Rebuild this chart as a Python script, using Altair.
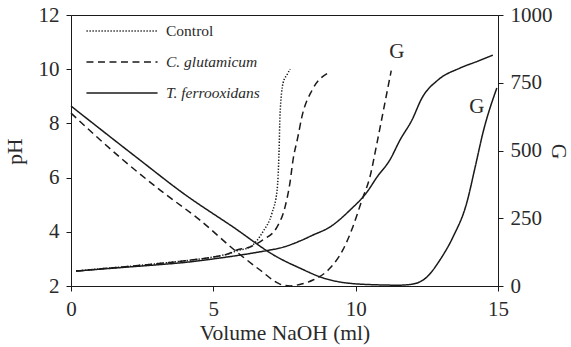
import altair as alt
import pandas as pd

# ---- data ----
series_names = ["Control", "C. glutamicum", "T. ferrooxidans"]

# pH curves (left axis)
x_ctrl = [0.18, 1, 2, 3, 4, 5, 5.5, 5.83, 6.29, 6.74, 7.06, 7.24, 7.31, 7.34, 7.45, 7.59, 7.7]
ph_ctrl = [2.55, 2.63, 2.72, 2.82, 2.93, 3.07, 3.18, 3.3, 3.44, 4.0, 4.69, 5.54, 7.02, 8.24, 9.49, 9.8, 10.0]

x_cg = [0.18, 1, 2, 3, 4, 5, 5.5, 5.83, 6.29, 6.74, 7.24, 7.52, 7.69, 7.8, 7.97, 8.11, 8.47, 9.03]
ph_cg = [2.55, 2.63, 2.72, 2.82, 2.93, 3.07, 3.18, 3.33, 3.44, 3.7, 4.18, 4.92, 5.8, 6.65, 7.5, 8.24, 9.23, 9.86]

x_tf = [0.18, 1, 2, 3, 4, 5, 6, 7, 7.34, 8.04, 8.5, 9.1, 9.8, 10.4, 10.75, 11.2, 11.56, 11.98, 12.33, 12.89, 13.66, 14.3, 14.82]
ph_tf = [2.55, 2.62, 2.7, 2.78, 2.87, 3.0, 3.15, 3.33, 3.4, 3.66, 3.88, 4.18, 4.8, 5.47, 6.02, 6.65, 7.39, 8.13, 8.94, 9.6, 10.04, 10.3, 10.52]

# G curves (right axis)
x_cgG = [0, 1.83, 3.13, 4.53, 5.83, 6.64, 7.34, 7.7, 8.0, 8.5, 9.1, 9.55, 9.9, 10.22, 10.5, 10.75, 10.96, 11.25]
g_cgG = [638, 465, 354, 243, 125, 59, 7, 0, 5, 22, 66, 133, 218, 317, 402, 528, 640, 795]

x_tfG = [0, 2.42, 3.93, 5.69, 7.24, 8.04, 8.85, 9.7, 10.85, 11.5, 12.0, 12.5, 12.96, 13.42, 13.9, 14.2, 14.47, 14.96]
g_tfG = [664, 465, 343, 218, 107, 66, 30, 11, 4, 3, 7, 33, 96, 181, 306, 440, 565, 731]

# "G" curve labels
lbl_text = ["G", "G"]
lbl_x = [11.45, 14.26]
lbl_g = [863, 661]

# ---- tables ----
ph_df = pd.concat([
    pd.DataFrame({"series": "Control", "x": x_ctrl, "y": ph_ctrl}),
    pd.DataFrame({"series": "C. glutamicum", "x": x_cg, "y": ph_cg}),
    pd.DataFrame({"series": "T. ferrooxidans", "x": x_tf, "y": ph_tf}),
], ignore_index=True)
g_df = pd.concat([
    pd.DataFrame({"series": "C. glutamicum", "x": x_cgG, "y": g_cgG}),
    pd.DataFrame({"series": "T. ferrooxidans", "x": x_tfG, "y": g_tfG}),
], ignore_index=True)
lbl_df = pd.DataFrame({"t": lbl_text, "x": lbl_x, "y": lbl_g})

INK = "#1a1a1a"
TXT = "#2a2a2a"
FONT = "Liberation Serif"

xenc = alt.X("x:Q", scale=alt.Scale(domain=[0, 15], nice=False),
             axis=alt.Axis(values=[0, 5, 10, 15], title="Volume NaOH (ml)",
                           titlePadding=3, labelPadding=7))

dash_enc = alt.StrokeDash(
    "series:N",
    scale=alt.Scale(domain=series_names, range=[[1.3, 1.7], [7, 4.5], [1, 0]]),
    legend=alt.Legend(
        title=None, orient="none", legendX=43, legendY=8, padding=0,
        symbolType="M-5,0L5,0", symbolSize=202, symbolStrokeWidth=1.4,
        symbolStrokeColor=INK, labelFont=FONT, labelFontSize=15.5, labelColor=TXT,
        labelFontStyle={"expr": "datum.label == 'Control' ? 'normal' : 'italic'"},
        labelAlign="left", labelOffset=36, rowPadding=14,
    ),
)
width_enc = alt.StrokeWidth("series:N", scale=alt.Scale(domain=series_names, range=[1.5, 1.5, 1.0]), legend=None)

ph_layer = alt.Chart(ph_df).mark_line(color=INK, interpolate="monotone").encode(
    x=xenc,
    y=alt.Y("y:Q", scale=alt.Scale(domain=[2, 12], nice=False),
            axis=alt.Axis(orient="left", values=[2, 4, 6, 8, 10, 12], title="pH",
                          titleX=-56, titleY=136, titleBaseline="middle", titleAlign="center",
                          labelPadding=7)),
    strokeDash=dash_enc,
    strokeWidth=width_enc,
    order="x:Q",
)

g_layer = alt.Chart(g_df).mark_line(color=INK, interpolate="monotone").encode(
    x=xenc,
    y=alt.Y("y:Q", scale=alt.Scale(domain=[0, 1000], nice=False),
            axis=alt.Axis(orient="right", values=[0, 250, 500, 750, 1000], format="d",
                          title="G", titleX=59, titleY=136, titleBaseline="middle",
                          titleAlign="center", labelPadding=7)),
    strokeDash=dash_enc,
    strokeWidth=width_enc,
    order="x:Q",
)

lbl_layer = alt.Chart(lbl_df).mark_text(font=FONT, fontSize=21, color=TXT).encode(
    x=xenc,
    y=alt.Y("y:Q", scale=alt.Scale(domain=[0, 1000], nice=False), axis=None),
    text="t:N",
)

chart = alt.layer(ph_layer, g_layer, lbl_layer).resolve_scale(y="independent").properties(
    width=427, height=271, autosize="none",
    padding={"left": 71, "top": 15, "right": 73, "bottom": 61},
).configure_axis(
    labelFont=FONT, titleFont=FONT, labelFontSize=21, titleFontSize=21.5,
    titleFontWeight="normal", labelColor=TXT, titleColor=TXT,
    domainColor=INK, tickColor=INK, tickSize=5, grid=False,
    labelFlush=False,
).configure_view(stroke=INK, strokeWidth=1)

chart.save("out.html", embed_options={"renderer": "svg", "actions": False})
